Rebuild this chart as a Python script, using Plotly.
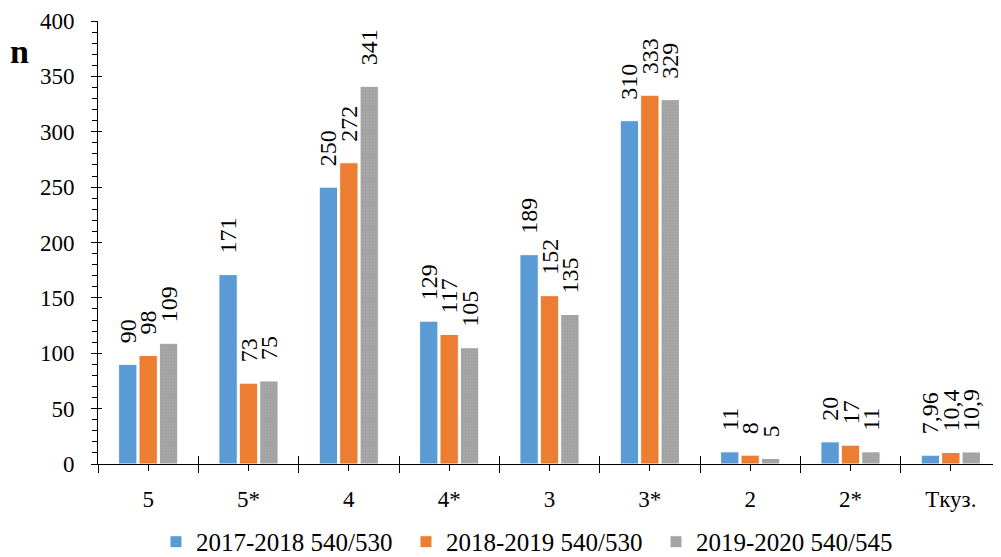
import plotly.graph_objects as go

categories = ["5", "5*", "4", "4*", "3", "3*", "2", "2*", "Tкуз."]
series_names = ["2017-2018 540/530", "2018-2019 540/530", "2019-2020 540/545"]
values_2017 = [90, 171, 250, 129, 189, 310, 11, 20, 7.96]
values_2018 = [98, 73, 272, 117, 152, 333, 8, 17, 10.4]
values_2019 = [109, 75, 341, 105, 135, 329, 5, 11, 10.9]
y_ticks = [0, 50, 100, 150, 200, 250, 300, 350, 400]

colors = ["#5B9BD5", "#ED7D31", "#A5A5A5"]
FONT = "Liberation Serif"

def fmt(v):
    s = ("%g" % v).replace(".", ",")
    return "\u00a0\u00a0\u00a0" + s

xs = list(range(len(categories)))
fig = go.Figure()
for name, vals, col in zip(series_names, [values_2017, values_2018, values_2019], colors):
    marker = dict(color=col, line=dict(color="white", width=1))
    if col == "#A5A5A5":
        marker["pattern"] = dict(shape=".", fgcolor="#969696", bgcolor=col, size=3, solidity=0.15)
    fig.add_trace(go.Bar(
        x=xs, y=vals, name=name, marker=marker,
        text=[fmt(v) for v in vals], textposition="outside", textangle=-90,
        textfont=dict(family=FONT, size=24, color="black"),
        constraintext="none", cliponaxis=False, hoverinfo="skip",
    ))

# dummy trace for overlay axes (crossing ticks)
fig.add_trace(go.Scatter(x=[None], y=[None], xaxis="x2", yaxis="y2",
                         showlegend=False, hoverinfo="skip"))

fig.update_layout(
    width=1001, height=557,
    margin=dict(l=90, r=8, t=13, b=101, autoexpand=False),
    paper_bgcolor="white", plot_bgcolor="white",
    barmode="group", bargap=0.39, bargroupgap=0.1,
    font=dict(family=FONT, size=23, color="black"),
    showlegend=True,
    legend=dict(orientation="h", x=0.4795, xanchor="center", y=-0.176, yanchor="middle",
                font=dict(family=FONT, size=25, color="black"),
                itemwidth=30, traceorder="normal", tracegroupgap=0,
                entrywidth=205, entrywidthmode="pixels",
                bgcolor="rgba(0,0,0,0)"),
    xaxis=dict(range=[-0.5, 8.5], tickmode="array", tickvals=xs, ticktext=categories,
               ticks="outside", ticklen=6, tickcolor="black", tickwidth=1,
               showline=True, linecolor="black", linewidth=1, showgrid=False,
               zeroline=False, ticklabelstandoff=8, automargin=False,
               tickfont=dict(family=FONT, size=23, color="black"),
               minor=dict(ticks="outside", tick0=-0.5, dtick=1, ticklen=8,
                          tickcolor="black", tickwidth=1, showgrid=False)),
    yaxis=dict(range=[0, 400], tickmode="array", tickvals=y_ticks,
               ticks="outside", ticklen=6, tickcolor="black", tickwidth=1,
               showline=True, linecolor="black", linewidth=1, showgrid=False,
               zeroline=False, ticklabelstandoff=12, automargin=False,
               tickfont=dict(family=FONT, size=23, color="black"),
               minor=dict(ticks="outside", tick0=0, dtick=10, ticklen=5,
                          tickcolor="black", tickwidth=1, showgrid=False)),
    xaxis2=dict(overlaying="x", anchor="y2", range=[-0.5, 8.5], tick0=-0.5, dtick=1,
                ticks="inside", ticklen=8, tickcolor="black", showticklabels=False,
                showline=False, showgrid=False, zeroline=False),
    yaxis2=dict(overlaying="y", anchor="x2", range=[0, 400], tick0=0, dtick=50,
                ticks="inside", ticklen=4, tickcolor="black", showticklabels=False,
                showline=False, showgrid=False, zeroline=False),
    annotations=[dict(text="<b>n</b>", xref="paper", yref="paper", x=-0.0864, y=0.932,
                      xanchor="center", yanchor="middle", showarrow=False,
                      font=dict(family=FONT, size=34, color="black"))],
)

fig.write_html("out.html")
